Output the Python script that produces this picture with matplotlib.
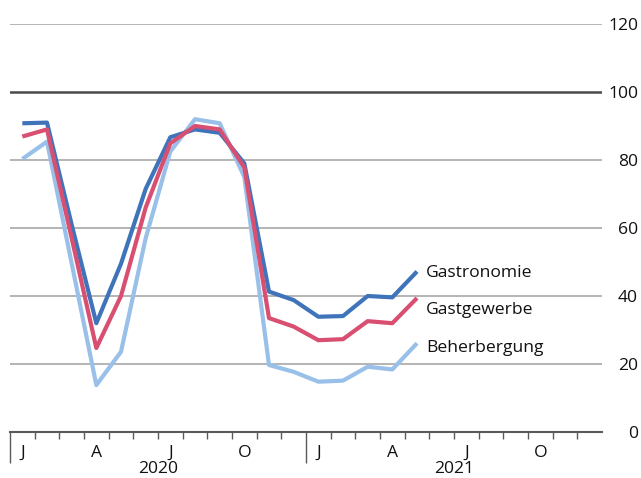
import matplotlib
matplotlib.use("Agg")
import matplotlib.pyplot as plt
from matplotlib.transforms import blended_transform_factory

plt.rcParams['font.family'] = ['Open Sans', 'DejaVu Sans']

# Monthly values Jan 2020 – May 2021
gastronomie = [90.8, 91.0, 61.0, 32.0, 49.5, 71.5, 86.7, 89.0, 88.0, 79.0,
               41.3, 38.8, 33.9, 34.1, 40.0, 39.6, 47.2]
gastgewerbe = [86.9, 89.0, 57.0, 24.7, 40.0, 66.0, 84.9, 90.0, 89.0, 77.8,
               33.5, 31.0, 27.0, 27.3, 32.6, 32.0, 39.4]
beherbergung = [80.3, 85.4, 49.6, 13.8, 23.6, 57.0, 82.5, 92.0, 90.8, 75.0,
                19.7, 17.7, 14.8, 15.1, 19.2, 18.4, 26.1]
series_names = ["Gastronomie", "Gastgewerbe", "Beherbergung"]
month_labels = ["J", "", "", "A", "", "", "J", "", "", "O", "", ""] * 2
years = ["2020", "2021"]
y_ticks = [0, 20, 40, 60, 80, 100, 120]

c_dark = "#3F74BA"
c_red = "#D84F71"
c_light = "#98C0E8"

fig = plt.figure(figsize=(6.41, 4.78), dpi=100)
ax = fig.add_axes([10/641, 46/478, 592/641, 408/478])
ax.set_xlim(0, 24)
ax.set_ylim(0, 120)

# gridlines
for v in y_ticks[1:]:
    if v == 100:
        ax.axhline(v, color="#4a4a4a", lw=1.8, zorder=1)
    else:
        ax.axhline(v, color="#a0a0a0", lw=1.1, zorder=1)

x = [i + 0.5 for i in range(len(gastronomie))]
ax.plot(x, beherbergung, color=c_light, lw=3.0, zorder=3, solid_capstyle="butt")
ax.plot(x, gastronomie, color=c_dark, lw=3.0, zorder=4, solid_capstyle="butt")
ax.plot(x, gastgewerbe, color=c_red, lw=3.0, zorder=5, solid_capstyle="butt")

# series labels
label_y = [46.8, 35.9, 24.7]
for name, ly in zip(series_names, label_y):
    ax.text(16.86, ly, name, fontsize=12.6, va="center", ha="left", color="#111111")

for s in ["top", "left", "right"]:
    ax.spines[s].set_visible(False)
ax.spines["bottom"].set_color("#5a5a5a")
ax.spines["bottom"].set_linewidth(1.5)

# y ticks on the right
ax.yaxis.tick_right()
ax.set_yticks(y_ticks)
ax.set_yticklabels([str(v) for v in y_ticks], fontsize=12.6, color="#111111")
ax.tick_params(axis="y", length=0, pad=26)
for lab in ax.get_yticklabels():
    lab.set_horizontalalignment("right")

# x ticks: month boundaries
ax.set_xticks([1, 2, 3, 4, 5, 6, 7, 8, 9, 10, 11, 13, 14, 15, 16, 17, 18, 19, 20, 21, 22, 23], minor=True)
ax.set_xticks([0, 12])
ax.set_xticklabels(["", ""])
ax.tick_params(axis="x", which="minor", length=5, width=1, color="#5a5a5a", direction="out")
ax.tick_params(axis="x", which="major", length=22, width=1, color="#5a5a5a", direction="out")

trans = blended_transform_factory(ax.transData, ax.transAxes)
for i, m in enumerate(month_labels):
    if m:
        ax.text(i + 0.5, -21/408, m, transform=trans, ha="center", va="center",
                fontsize=12.6, color="#111111")
for k, yr in enumerate(years):
    ax.text(k * 12 + 6, -37/408, yr, transform=trans, ha="center", va="center",
            fontsize=12.6, color="#111111")

fig.savefig("out.png", dpi=100)
